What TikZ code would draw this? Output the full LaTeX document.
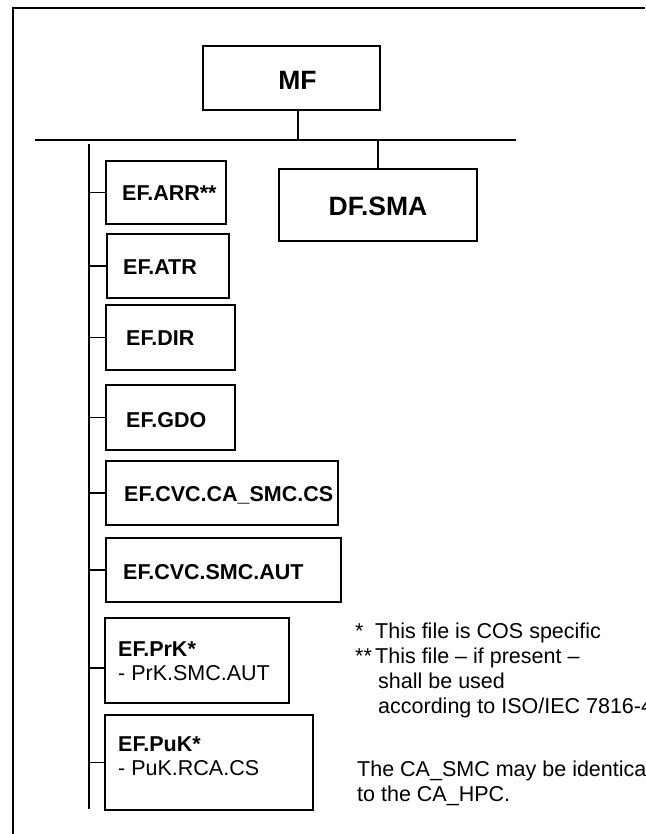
\documentclass[tikz,border=0pt]{standalone}
\usepackage{fontspec}
\setmainfont{Liberation Sans}
\begin{document}
\tikzset{
  box/.style={draw, line width=2pt, inner sep=0pt, anchor=north west},
  conn/.style={line width=1.6pt},
  frame/.style={line width=2.4pt, line join=miter},
  lbl/.style={font=\bfseries\fontsize{21.5}{24}\selectfont, inner sep=0pt, text height=15pt, text depth=0pt, anchor=west},
  big/.style={font=\bfseries\fontsize{26.5}{30}\selectfont, inner sep=0pt, text height=19pt, text depth=0pt},
  twoline/.style={font=\fontsize{21.5}{24}\selectfont, inner sep=0pt, anchor=north west, align=left},
  note/.style={font=\fontsize{21.5}{25}\selectfont, inner sep=0pt, anchor=north west, align=left},
}
\begin{tikzpicture}[x=1pt,y=-1pt]
\useasboundingbox (0,0) rectangle (645,834);
% outer frame (partly cut)
\draw[frame] (13,834) -- (13,8) -- (645,8);

% boxes
\node[box, minimum width=177pt, minimum height=64pt] (mf) at (202,45) {};
\node[big] (mft) at ([xshift=6pt,yshift=-2pt]mf.center) {MF};
\node[box, minimum width=198pt, minimum height=72pt] (df) at (278,168) {};
\node[big] (dft) at ([yshift=-1pt]df.center) {DF.SMA};

\node[box, minimum width=120pt, minimum height=63pt] (arr) at (105,160) {};
\node[lbl] at ([xshift=17pt,yshift=-1pt]arr.west) {EF.ARR**};
\node[box, minimum width=122pt, minimum height=64pt] (atr) at (106,233) {};
\node[lbl] at ([xshift=17pt,yshift=-1pt]atr.west) {EF.ATR};
\node[box, minimum width=129pt, minimum height=65pt] (dir) at (105,304) {};
\node[lbl] at ([xshift=21pt]dir.west) {EF.DIR};
\node[box, minimum width=129pt, minimum height=65pt] (gdo) at (105,384) {};
\node[lbl] at ([xshift=21pt,yshift=-2pt]gdo.west) {EF.GDO};
\node[box, minimum width=232pt, minimum height=64pt] (cvca) at (105,460) {};
\node[lbl] at ([xshift=19pt,yshift=-1pt]cvca.west) {EF.CVC.CA\_SMC.CS};
\node[box, minimum width=235pt, minimum height=64pt] (cvsm) at (105,537) {};
\node[lbl] at ([xshift=18pt,yshift=-2pt]cvsm.west) {EF.CVC.SMC.AUT};
\node[box, minimum width=184pt, minimum height=85pt] (prk) at (104,617) {};
\node[twoline] at (118,642) {{\bfseries EF.PrK*}\\- PrK.SMC.AUT};
\node[box, minimum width=208pt, minimum height=95pt] (puk) at (104,714) {};
\node[twoline] at (118,736) {{\bfseries EF.PuK*}\\- PuK.RCA.CS};

% connectors
\coordinate (barL) at (35,140);
\coordinate (barR) at (516,140);
\coordinate (spT) at (89,144);
\coordinate (spB) at (89,809);
\draw[conn] (barL) -- (barR);
\draw[conn] ([xshift=6.5pt]mf.south) -- ([xshift=6.5pt]mf.south |- barL);
\draw[conn] (df.north) -- (df.north |- barL);
\draw[conn] (spT) -- (spB);
\foreach \n in {arr,atr,dir,gdo,cvca,cvsm,puk}
  \draw[conn] (\n.west) -- (\n.west -| spT);
\draw[conn] ([yshift=-7.5pt]prk.west) -- ([yshift=-7.5pt]prk.west -| spT);

% notes
\node[note] (n1) at (355,623) {\makebox[20pt][l]{*}This file is COS specific\\
\makebox[20pt][l]{**}This file -- if present --\\
\hspace*{23pt}shall be used\\
\hspace*{23pt}according to ISO/IEC 7816-4};
\node[note] (n2) at (357,761) {The CA\_SMC may be identical\\to the CA\_HPC.};
\end{tikzpicture}
\end{document}
